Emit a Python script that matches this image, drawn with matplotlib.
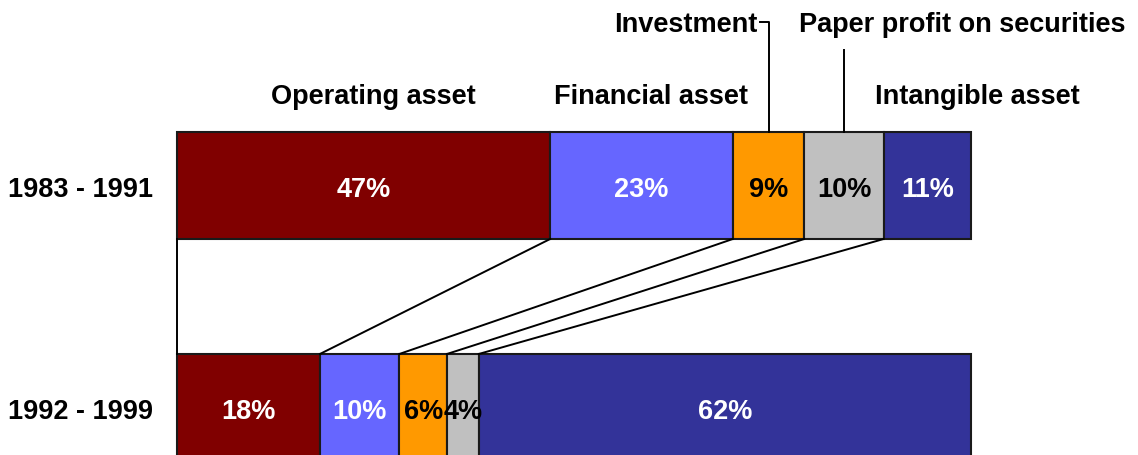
import numpy as np
import matplotlib.pyplot as plt

plt.rcParams['font.family'] = ['Liberation Sans', 'DejaVu Sans']

periods = ['1983 - 1991', '1992 - 1999']
components = ['Operating asset', 'Financial asset', 'Investment',
              'Paper profit on securities', 'Intangible asset']
shares = {
    '1983 - 1991': [47, 23, 9, 10, 11],
    '1992 - 1999': [18, 10, 6, 4, 62],
}
colors = ['#800000', '#6666FF', '#FF9900', '#C0C0C0', '#333399']
text_colors = ['white', 'white', 'black', 'black', 'white']

fig = plt.figure(figsize=(11.38, 4.56), dpi=100)
ax = fig.add_axes([0, 0, 1, 1])
ax.set_xlim(-22.29, 121.03)
ax.set_ylim(1.214, -0.840)
ax.axis('off')

bar_h = 0.482
fs = 19.5

lefts_by_row = []
for row, period in enumerate(periods):
    vals = np.array(shares[period], dtype=float)
    lefts = np.concatenate([[0], np.cumsum(vals)[:-1]])
    lefts_by_row.append(np.concatenate([lefts, [lefts[-1] + vals[-1]]]))
    ax.barh(row, vals, left=lefts, height=bar_h, color=colors,
            edgecolor='#1a1a1a', linewidth=1.5, clip_on=False)
    for v, l, tc in zip(vals, lefts, text_colors):
        ax.text(l + v / 2, row + 0.015, f'{v:.0f}%', ha='center', va='center',
                color=tc, fontsize=fs, fontweight='bold')
    ax.text(-12.2, row + 0.015, period, ha='center', va='center',
            fontsize=fs, fontweight='bold')

# series lines between the two bars
top_y = 0 + bar_h / 2
bot_y = 1 - bar_h / 2
for i in range(len(components)):
    ax.plot([lefts_by_row[0][i], lefts_by_row[1][i]], [top_y, bot_y],
            color='black', lw=1.4, zorder=1)

# component names above the top bar
bar_top = -bar_h / 2
ax.text(24.7, -0.405, components[0], ha='center', va='center',
        fontsize=fs, fontweight='bold')
ax.text(59.7, -0.405, components[1], ha='center', va='center',
        fontsize=fs, fontweight='bold')
ax.text(100.8, -0.405, components[4], ha='center', va='center',
        fontsize=fs, fontweight='bold')

# leader for Investment
inv_x = 47 + 23 + 9 / 2
ax.text(73.1, -0.728, components[2], ha='right', va='center',
        fontsize=fs, fontweight='bold')
ax.plot([73.4, inv_x, inv_x], [-0.737, -0.737, bar_top],
        color='black', lw=1.4)

# leader for Paper profit on securities
pp_x = 47 + 23 + 9 + 10 / 2
ax.text(78.3, -0.728, components[3], ha='left', va='center',
        fontsize=fs, fontweight='bold')
ax.plot([pp_x, pp_x], [-0.61, bar_top], color='black', lw=1.4)

fig.savefig('out.png', dpi=100)
